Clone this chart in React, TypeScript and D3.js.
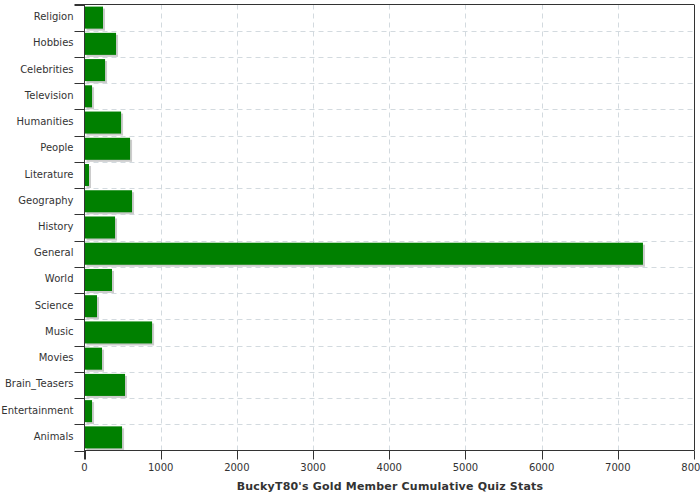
import React from "react";
import * as d3 from "d3";

const categories = [
  "Religion", "Hobbies", "Celebrities", "Television", "Humanities", "People",
  "Literature", "Geography", "History", "General", "World", "Science",
  "Music", "Movies", "Brain_Teasers", "Entertainment", "Animals",
];
const values = [
  243, 414, 270, 99, 480, 598, 59, 624, 401, 7330, 361, 164, 887, 230, 532, 99, 493,
];
const xTicks = [0, 1000, 2000, 3000, 4000, 5000, 6000, 7000, 8000];
const title = "BuckyT80's Gold Member Cumulative Quiz Stats";

export default function App() {
  const W = 700, H = 500;
  const left = 84.5, right = 694, top = 4.5, bottom = 450.5;
  const x = d3.scaleLinear().domain([0, 8000]).range([left, right]);
  const y = d3.scaleBand<string>().domain(categories).range([top, bottom]).paddingInner(0.16).paddingOuter(0.08);
  const band = (bottom - top) / categories.length;
  const bounds = d3.range(categories.length + 1).map((i) => top + i * band);
  const font = "DejaVu Sans, sans-serif";
  return (
    <svg width={W} height={H} style={{ position: "absolute", left: 0, top: 0, background: "#fff" }}>
      {/* grid */}
      {xTicks.slice(1, -1).map((t) => (
        <line key={"vx" + t} x1={Math.round(x(t)) + 0.5} x2={Math.round(x(t)) + 0.5} y1={top} y2={bottom}
          stroke="#d3dadf" strokeDasharray="5,4" />
      ))}
      {bounds.slice(1, -1).map((b, i) => (
        <line key={"hy" + i} x1={left} x2={right} y1={Math.round(b) + 0.5} y2={Math.round(b) + 0.5}
          stroke="#d3dadf" strokeDasharray="5,4" />
      ))}
      {/* bars */}
      {categories.map((c, i) => {
        const y0 = y(c)!;
        const w = x(values[i]) - x(0);
        return (
          <g key={c}>
            <rect x={x(0) + 2} y={y0 + 2} width={w} height={y.bandwidth()} fill="#cccccc" />
            <rect x={x(0)} y={y0} width={w} height={y.bandwidth()} fill="#008000" />
          </g>
        );
      })}
      {/* axes */}
      <line x1={left - 10} x2={right} y1={top} y2={top} stroke="#333" />
      <line x1={left} x2={right} y1={bottom} y2={bottom} stroke="#333" />
      <line x1={left} x2={left} y1={top} y2={bottom + 9} stroke="#333" />
      <line x1={Math.round(right) + 0.5} x2={Math.round(right) + 0.5} y1={top} y2={bottom} stroke="#333" />
      {bounds.map((b, i) => (
        <line key={"yt" + i} x1={left - 10} x2={left} y1={Math.round(b) + 0.5} y2={Math.round(b) + 0.5} stroke="#333" />
      ))}
      {xTicks.map((t) => (
        <g key={"xt" + t}>
          <line x1={Math.round(x(t)) + 0.5} x2={Math.round(x(t)) + 0.5} y1={bottom} y2={bottom + 9} stroke="#333" />
          <text x={x(t)} y={bottom + 20} textAnchor="middle" fontFamily={font} fontSize={10} fill="#333">{t}</text>
        </g>
      ))}
      {categories.map((c) => (
        <text key={"yl" + c} x={left - 11} y={y(c)! + y.bandwidth() / 2 - 1} dy="0.35em" textAnchor="end"
          fontFamily={font} fontSize={10} fill="#333">{c}</text>
      ))}
      <text x={390} y={490} textAnchor="middle" fontFamily={font} fontSize={11} letterSpacing={0.2}
        fontWeight="bold" fill="#333">{title}</text>
    </svg>
  );
}
